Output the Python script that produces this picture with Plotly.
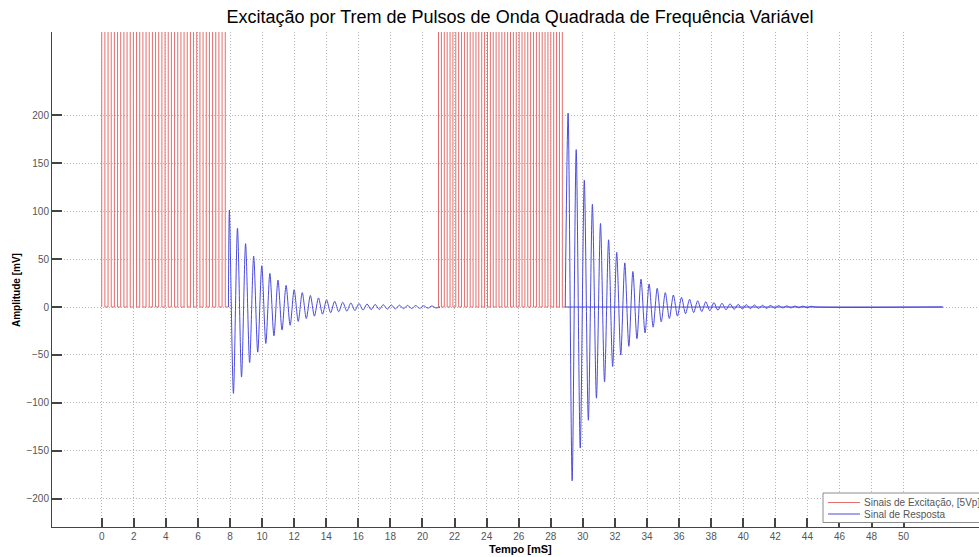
import plotly.graph_objects as go

# ---------------- data ----------------
title_text = "Excitação por Trem de Pulsos de Onda Quadrada de Frequência Variável"
x_label = "Tempo [mS]"
y_label = "Amplitude [mV]"
legend_names = ["Sinais de Excitação, [5Vp]", "Sinal de Resposta"]

x_ticks = list(range(0, 51, 2))
y_ticks = [-200, -150, -100, -50, 0, 50, 100, 150, 200]

# excitation pulse trains (ms)
train_start = [0.0, 21.0]
train_end = [7.9, 28.9]
train_cycles = [20, 22]
excitation_mV = 5000.0          # 5 Vp, clipped by the axes

# response: alternating extrema (peak, trough, peak, ...)
half_period = 0.2525            # ms between successive extrema
t_end = 52.45

resp1_start = 7.9
resp1_t0 = 7.96
resp1_peaks = [101, 82, 66, 53, 43, 35, 28, 22.5, 18, 15, 12, 9.5, 7.5, 6, 5,
               4.2, 3.6, 3.1, 2.7, 2.4, 2.1, 1.9, 1.7, 1.5, 1.3, 1.1]
resp1_troughs = [-90, -73, -58, -47, -38, -30, -24, -19, -15, -12, -9.5, -7.5,
                 -6, -5, -4.3, -3.7, -3.2, -2.8, -2.5, -2.2, -2, -1.8, -1.6,
                 -1.4, -1.2, -1.0]
resp1_stop = 21.0

resp2_start = 28.9
resp2_t0 = 29.08
resp2_peaks = [202, 164, 132, 107, 87, 70, 57, 46, 37, 29, 24, 19.5, 15, 12.5,
               10, 8, 6.5, 5.5, 4.6, 3.9, 3.3, 2.8, 2.4, 2.1, 1.8, 1.6, 1.4,
               1.2, 1.0, 0.9, 0.8]
resp2_troughs = [-181, -147, -118, -95, -78, -62, -50, -41, -33, -27, -21,
                 -15.5, -12, -9.5, -7, -5.8, -4.8, -4, -3.4, -2.9, -2.5, -2.1,
                 -1.8, -1.6, -1.4, -1.2, -1.0, -0.9, -0.8, -0.7]

# ---------------- build traces ----------------
def square_train(t0, t1, n, level):
    xs, ys = [t0], [0.0]
    p = (t1 - t0) / n
    for i in range(n):
        a = t0 + i * p
        b = a + p / 2
        xs += [a, a, b, b]
        ys += [0.0, level, level, 0.0]
    xs.append(t1)
    ys.append(0.0)
    return xs, ys

def response(start, t0, peaks, troughs, stop):
    xs, ys = [start], [0.0]
    vals = []
    for i in range(max(len(peaks), len(troughs))):
        if i < len(peaks):
            vals.append(peaks[i])
        if i < len(troughs):
            vals.append(troughs[i])
    for k, v in enumerate(vals):
        xs.append(t0 + k * half_period)
        ys.append(v)
    xs.append(xs[-1] + half_period)
    ys.append(0.0)
    xs.append(stop)
    ys.append(0.0)
    return xs, ys

rx, ry = [], []
for s, e, n in zip(train_start, train_end, train_cycles):
    xs, ys = square_train(s, e, n, excitation_mV)
    rx += xs + [None]
    ry += ys + [None]

bx, by = [], []
xs, ys = response(resp1_start, resp1_t0, resp1_peaks, resp1_troughs, resp1_stop)
bx += xs + [None]
by += ys + [None]
xs, ys = response(resp2_start, resp2_t0, resp2_peaks, resp2_troughs, t_end)
bx += xs + [None]
by += ys + [None]
bx += [resp2_start, t_end]
by += [0.0, 0.0]

RED = "rgb(226,110,110)"
BLUE = "rgb(75,75,220)"

fig = go.Figure()
fig.add_trace(go.Scatter(x=rx, y=ry, mode="lines", name=legend_names[0],
                         line=dict(color=RED, width=1), connectgaps=False))
fig.add_trace(go.Scatter(x=bx, y=by, mode="lines", name=legend_names[1],
                         line=dict(color=BLUE, width=1, shape="spline",
                                   smoothing=0.8),
                         connectgaps=False))

FONT = "Liberation Sans, Arial, sans-serif"
W, H = 979, 557
L, R, T, B = 52, 0, 32, 30
pw = W - L - R
ph = H - T - B

def px_x(p):                 # window pixel -> paper x
    return (p - L) / pw

def px_y(p):                 # window pixel -> paper y
    return (H - B - p) / ph

axis_common = dict(
    showline=True, linecolor="#444", linewidth=1,
    ticks="inside", tickcolor="#444", tickwidth=1.5,
    showgrid=True, gridcolor="#b4b4b4", griddash="1px,2px", gridwidth=1,
    zeroline=False, mirror=False,
    tickfont=dict(family=FONT, size=10, color="#555"),
)

# legend box (drawn as a box with sample lines and real text entries)
leg_x0, leg_x1, leg_y0, leg_y1 = 823, 995, 493, 522.5
leg_rows = [502.5, 514]
leg_colors = [RED, BLUE]
shapes = [dict(type="rect", xref="paper", yref="paper",
               x0=px_x(leg_x0), x1=px_x(leg_x1), y0=px_y(leg_y1), y1=px_y(leg_y0),
               line=dict(color="#8c8c8c", width=1), fillcolor="white", layer="above")]
legend_ann = []
for row, col, name in zip(leg_rows, leg_colors, legend_names):
    shapes.append(dict(type="line", xref="paper", yref="paper",
                       x0=px_x(828), x1=px_x(860), y0=px_y(row), y1=px_y(row),
                       line=dict(color=col, width=1), layer="above"))
    legend_ann.append(dict(text=name, x=px_x(862), y=px_y(row), xref="paper",
                           yref="paper", showarrow=False, xanchor="left",
                           yanchor="middle",
                           font=dict(family=FONT, size=10, color="#555")))

fig.update_layout(
    width=W, height=H,
    margin=dict(l=L, r=R, t=T, b=B, autoexpand=False),
    paper_bgcolor="white", plot_bgcolor="white",
    title=dict(text=title_text, x=px_x(520), xref="paper", xanchor="center",
               y=1 - 17 / H, yref="container", yanchor="middle",
               font=dict(family=FONT, size=18, color="black")),
    xaxis=dict(range=[-3.1, 54.7], tickvals=x_ticks, ticklen=9, **axis_common),
    yaxis=dict(range=[-229.2, 286.5], tickvals=y_ticks, ticklen=10, **axis_common),
    showlegend=False,
    shapes=shapes,
    annotations=[
        dict(text="<b>" + x_label + "</b>", x=px_x(520), y=px_y(549),
             xref="paper", yref="paper", showarrow=False,
             font=dict(family=FONT, size=11, color="black"),
             xanchor="center", yanchor="middle"),
        dict(text="<b>" + y_label + "</b>", x=px_x(16), y=px_y(290),
             xref="paper", yref="paper", showarrow=False, textangle=-90,
             font=dict(family=FONT, size=10, color="black"),
             xanchor="center", yanchor="middle"),
    ] + legend_ann,
)

# remove the default page margin so the figure fills the 979x557 window
fig.write_html("out.html",
               config={"displayModeBar": False},
               post_script="document.body.style.margin='0';"
                           "document.body.style.overflow='hidden';")
